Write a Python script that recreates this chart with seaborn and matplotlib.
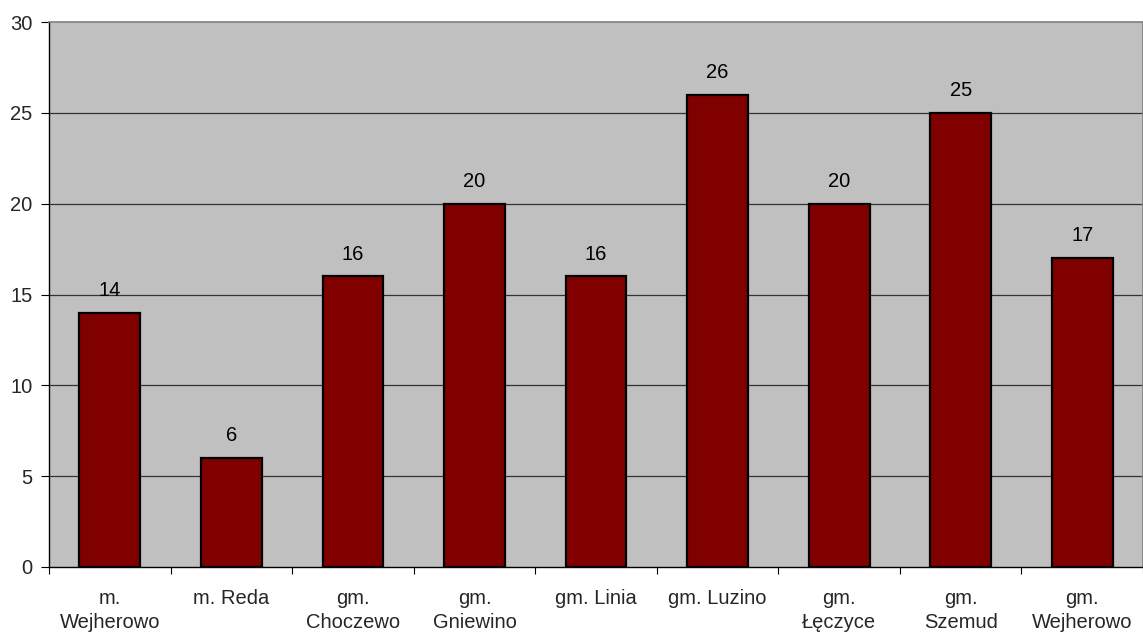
import numpy as np
import pandas as pd
import matplotlib
matplotlib.use("Agg")
import matplotlib.pyplot as plt
import seaborn as sns

# --- DATA ---
categories = ["m.\nWejherowo", "m. Reda", "gm.\nChoczewo", "gm.\nGniewino",
              "gm. Linia", "gm. Luzino", "gm.\nŁęczyce", "gm.\nSzemud",
              "gm.\nWejherowo"]
values = [14, 6, 16, 20, 16, 26, 20, 25, 17]
y_ticks = [0, 5, 10, 15, 20, 25, 30]

BAR_COLOR = "#800000"
PLOT_BG = "#C0C0C0"
FS = 14.5

sns.set_theme(style="white")
plt.rcParams["font.family"] = ["Liberation Sans", "DejaVu Sans"]

df = pd.DataFrame({"cat": categories, "val": values})

fig = plt.figure(figsize=(11.43, 6.36), dpi=100)
fig.patch.set_facecolor("white")
ax = fig.add_axes([49 / 1143, 1 - 567 / 636, 1 - 49 / 1143, (567 - 22) / 636])
ax.set_facecolor(PLOT_BG)

sns.barplot(data=df, x="cat", y="val", color=BAR_COLOR, width=0.5,
            edgecolor="black", linewidth=1.6, saturation=1, ax=ax, zorder=3)

# gridlines
ax.set_ylim(0, 30)
ax.set_xlim(-0.5, len(categories) - 0.5)
ax.set_yticks(y_ticks)
ax.set_yticklabels([str(t) for t in y_ticks], fontsize=FS)
for t in y_ticks[1:-1]:
    ax.axhline(t, color="#333333", linewidth=0.9, zorder=1)

# value labels
for i, v in enumerate(values):
    ax.text(i, v + 0.7, str(v), ha="center", va="bottom", fontsize=FS, color="black", zorder=4)

# x ticks at category boundaries (Excel-like)
ax.set_xticks(range(len(categories)))
ax.set_xticklabels(categories, fontsize=FS, linespacing=1.3)
ax.tick_params(axis="x", which="major", length=0, pad=16)
ax.set_xticks(np.arange(-0.5, len(categories), 1.0), minor=True)
ax.tick_params(axis="x", which="minor", length=5, width=0.8, color="black", direction="out", bottom=True)
ax.tick_params(axis="y", which="major", length=6, width=0.8, color="black", direction="out", left=True, pad=6)
ax.set_xlabel("")
ax.set_ylabel("")

for side in ["left", "bottom"]:
    ax.spines[side].set_color("black")
    ax.spines[side].set_linewidth(1.0)
ax.spines["top"].set_color("#808080")
ax.spines["top"].set_linewidth(1.2)
ax.spines["right"].set_color("#808080")

fig.savefig("out.png", dpi=100, facecolor=fig.get_facecolor())
plt.close(fig)
